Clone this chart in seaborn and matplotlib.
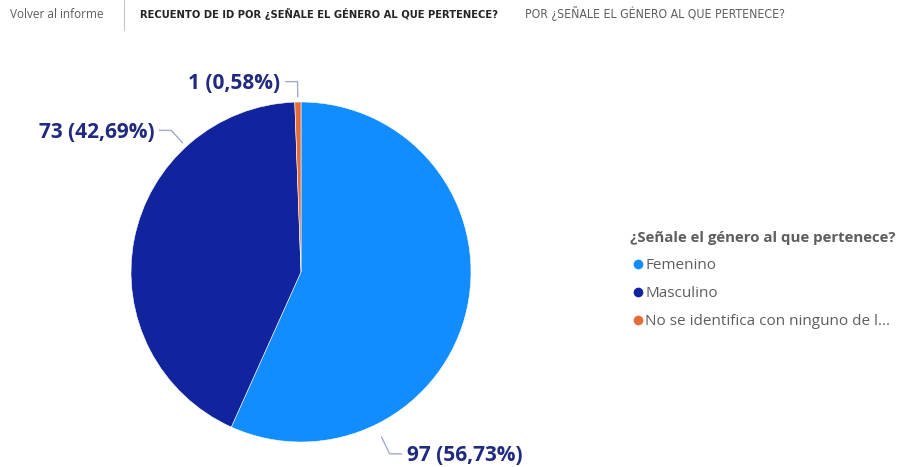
import matplotlib
matplotlib.use('Agg')
import matplotlib.pyplot as plt
from matplotlib.lines import Line2D
import numpy as np
import seaborn as sns

# datos
categorias = ['Femenino', 'Masculino', 'No se identifica con ninguno de l...']
recuento = [97, 73, 1]
porcentajes = ['56,73%', '42,69%', '0,58%']
colores = ['#118DFF', '#12239E', '#E66C37']

sns.set_theme(style='white')
plt.rcParams['font.family'] = ['Open Sans', 'DejaVu Sans']

fig = plt.figure(figsize=(9.08, 4.67), dpi=100)
fig.patch.set_facecolor('white')

# cabecera
fig.text(10 / 908, 1 - 14 / 467, 'Volver al informe', fontsize=8.5, color='#605E5C', va='center')
fig.add_artist(Line2D([124 / 908, 124 / 908], [1 - 30 / 467, 1.0], color='#C8C6C4', lw=0.8))
fig.text(140 / 908, 1 - 14 / 467, 'RECUENTO DE ID POR ¿SEÑALE EL GÉNERO AL QUE PERTENECE?',
         fontsize=8.0, color='#252423', va='center', fontweight='bold',
         family='DejaVu Sans', fontstretch='condensed')
fig.text(525 / 908, 1 - 14 / 467, 'POR ¿SEÑALE EL GÉNERO AL QUE PERTENECE?',
         fontsize=8.8, color='#605E5C', va='center',
         family='DejaVu Sans', fontstretch='condensed')

# gráfico circular
ax = fig.add_axes([131 / 908, 1 - 442 / 467, 340 / 908, 340 / 467])
wedges, _ = ax.pie(recuento, colors=colores, startangle=90, counterclock=False,
                   wedgeprops={'linewidth': 0.4, 'edgecolor': 'white'})
ax.set_xlim(-1, 1)
ax.set_ylim(-1, 1)
ax.set_aspect('equal')

# etiquetas con líneas guía (ángulo, radio inicial, radio del codo) como en Power BI
guias = {0: (-64.0, 1.08, 1.19), 1: (132.5, 1.03, 1.13)}
for i, w in enumerate(wedges):
    ang, r0, r1 = guias.get(i, ((w.theta1 + w.theta2) / 2, 1.03, 1.12))
    a = np.deg2rad(ang)
    x0, y0 = r0 * np.cos(a), r0 * np.sin(a)
    x1, y1 = r1 * np.cos(a), r1 * np.sin(a)
    lado = 1 if np.cos(a) > 0.05 else -1
    x2 = x1 + lado * 0.07
    ax.plot([x0, x1, x2], [y0, y1, y1], color='#A3AACB', lw=1, clip_on=False)
    ax.text(x2 + lado * 0.03, y1 - 0.01, f'{recuento[i]} ({porcentajes[i]})',
            ha='left' if lado > 0 else 'right', va='center',
            fontsize=15, fontweight='bold', color='#1F2A80', clip_on=False)

# leyenda
handles = [Line2D([0], [0], marker='o', color='w', markerfacecolor=c, markersize=8, lw=0)
           for c in colores]
leg = fig.legend(handles, categorias, title='¿Señale el género al que pertenece?',
                 loc='upper left', bbox_to_anchor=(624 / 908, 1 - 225 / 467),
                 frameon=False, fontsize=11, title_fontsize=10.8, labelspacing=0.85,
                 handletextpad=0.0, handlelength=1.0, borderaxespad=0, alignment='left')
leg.get_title().set_fontweight('bold')
leg.get_title().set_color('#605E5C')
for t in leg.get_texts():
    t.set_color('#605E5C')

fig.savefig('out.png', dpi=100, facecolor='white')
